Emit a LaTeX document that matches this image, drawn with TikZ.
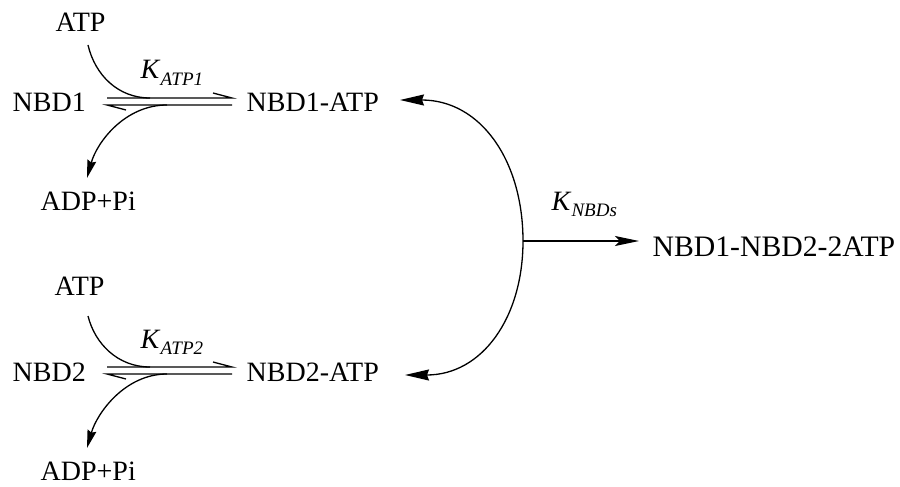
\documentclass[tikz,border=0pt]{standalone}
\usepackage{fontspec}
\setmainfont{Liberation Serif}
\usetikzlibrary{arrows.meta}
\newcommand{\subtxt}[1]{\raisebox{-6pt}{\fontsize{19}{20}\selectfont\textit{#1}}}
\begin{document}
\begin{tikzpicture}[x=1pt,y=-1pt,line width=1.3pt,
  lbl/.style={inner sep=0pt,anchor=base west,font=\fontsize{28}{30}\selectfont},
  biglbl/.style={lbl,font=\fontsize{29.7}{32}\selectfont},
  smallhead/.style={-{Stealth[length=18pt,width=9pt,inset=2pt]}},
  bighead/.style={{Stealth[length=24pt,width=11pt,inset=2pt]}-{Stealth[length=24pt,width=11pt,inset=2pt]}},
  longhead/.style={-{Stealth[length=24pt,width=10pt,inset=5pt]}}]
\useasboundingbox (0,0) rectangle (900,487);
% ---- top reaction
\node[lbl] (atpA) at (55,32) {ATP};
\node[lbl] (nbdA) at (12,111) {NBD1};
\node[lbl] (nbdAatp) at (246,111) {NBD1-ATP};
\node[lbl] (adpA) at (40,210) {ADP+Pi};
\node[lbl] (kA) at (140,79) {\textit{K}\subtxt{ATP1}};
\coordinate (eqAu1) at (107,98);
\coordinate (eqAu2) at (232,98);
\coordinate (eqAl1) at (107,105);
\coordinate (eqAl2) at (232,105);
\coordinate (cAs) at (88,45);
\coordinate (cAe) at (150,98);
\coordinate (dAs) at (167,105);
\coordinate (dAe) at (87,178);
\draw (eqAu1) -- (eqAu2) -- ++(-19,-5);
\draw (eqAl2) -- (eqAl1) -- ++(19,5);
\draw (cAs) .. controls (95,75) and (118,98) .. (cAe);
\draw[smallhead] (dAs) .. controls (125,105) and (97,142) .. (dAe);
% ---- bottom reaction
\node[lbl] (atpB) at (54,295) {ATP};
\node[lbl] (nbdB) at (12,381) {NBD2};
\node[lbl] (nbdBatp) at (246,381) {NBD2-ATP};
\node[lbl] (adpB) at (40,480) {ADP+Pi};
\node[lbl] (kB) at (140,348) {\textit{K}\subtxt{ATP2}};
\coordinate (eqBu1) at (107,367);
\coordinate (eqBu2) at (232,367);
\coordinate (eqBl1) at (107,374);
\coordinate (eqBl2) at (232,374);
\coordinate (cBs) at (88,316);
\coordinate (cBe) at (150,367);
\coordinate (dBs) at (167,374);
\coordinate (dBe) at (87,448);
\draw (eqBu1) -- (eqBu2) -- ++(-19,-5);
\draw (eqBl2) -- (eqBl1) -- ++(19,5);
\draw (cBs) .. controls (95,344) and (118,367) .. (cBe);
\draw[smallhead] (dBs) .. controls (125,374) and (97,413) .. (dBe);
% ---- dimerisation
\coordinate (tipA) at (400,100);
\coordinate (tipB) at (405,375);
\coordinate (mid) at (523,241);
\coordinate (prodIn) at (639,241);
\node[lbl] (knbd) at (551,210) {\textit{K}\subtxt{NBDs}};
\node[biglbl] (prod) at (652,256) {NBD1-NBD2-2ATP};
\draw[bighead] (tipA) to[out=0,in=90,looseness=1.1] (mid) to[out=-90,in=0,looseness=1.1] (tipB);
\draw[longhead] (mid) -- (prodIn);
\end{tikzpicture}
\end{document}
